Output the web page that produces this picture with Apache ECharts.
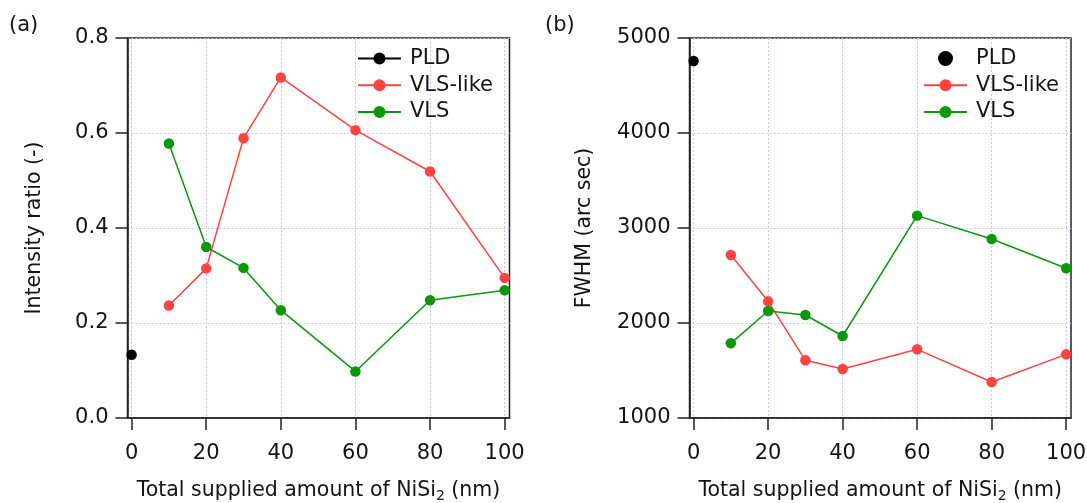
<!DOCTYPE html>
<html>
<head>
<meta charset="utf-8">
<script src="https://cdn.jsdelivr.net/npm/echarts@6/dist/echarts.min.js"></script>
<style>html,body{margin:0;padding:0;background:#fff;}#c{width:1087px;height:503px;}</style>
</head>
<body>
<div id="c"></div>
<script>
// ---- data ----
const xTicks = [0, 20, 40, 60, 80, 100];
const xVals = [10, 20, 30, 40, 60, 80, 100];
// panel (a) intensity ratio
const pldRatio = [[0, 0.133]];
const vlsLikeRatio = [0.237, 0.315, 0.589, 0.717, 0.606, 0.519, 0.295];
const vlsRatio = [0.578, 0.360, 0.316, 0.227, 0.098, 0.248, 0.269];
// panel (b) FWHM (arc sec)
const pldFwhm = [[0, 4758]];
const vlsLikeFwhm = [2716, 2228, 1607, 1516, 1723, 1379, 1670];
const vlsFwhm = [1786, 2126, 2084, 1863, 3130, 2884, 2576];

const pairs = (xs, ys) => xs.map((x, i) => [x, ys[i]]);

const FONT = "'DejaVu Sans', 'Liberation Sans', Arial, sans-serif";
const TXT = '#141414';
const RED = '#ff4242';
const GREEN = '#0a980a';
const AX = '#222';
const GRIDC = '#c6c6f2';

function xAxis(gi) {
  return {
    type: 'value', gridIndex: gi, min: -1.1, max: 101.3,
    minInterval: 20, maxInterval: 20, splitNumber: 5,
    axisLine: { show: true, onZero: false, lineStyle: { color: AX, width: 1.6 } },
    axisTick: { show: true, inside: false, length: 12, lineStyle: { color: AX, width: 1.5 }, customValues: xTicks },
    axisLabel: { color: TXT, fontSize: 21, fontFamily: FONT, margin: 25, customValues: xTicks },
    splitLine: { show: true, lineStyle: { color: GRIDC, type: [2, 2], width: 1 } },
    name: 'Total supplied amount of NiSi{sub|2} (nm)',
    nameLocation: 'middle', nameGap: 60,
    nameTextStyle: { color: TXT, fontSize: 20.5, fontFamily: FONT,
      rich: { sub: { fontSize: 14, fontFamily: FONT, color: TXT, verticalAlign: 'bottom', padding: [11, 0, 0, 0] } } }
  };
}
function yAxis(gi, min, max, interval, name, gap, fmt) {
  return {
    type: 'value', gridIndex: gi, min: min, max: max, interval: interval,
    axisLine: { show: true, onZero: false, lineStyle: { color: AX, width: 1.6 } },
    axisTick: { show: true, inside: false, length: 12, lineStyle: { color: AX, width: 1.5 } },
    axisLabel: { color: TXT, fontSize: 21, fontFamily: FONT, margin: 19, padding: [3, 0, 0, 0], formatter: fmt },
    splitLine: { show: true, lineStyle: { color: GRIDC, type: [2, 2], width: 1 } },
    name: name, nameLocation: 'middle', nameGap: gap,
    nameTextStyle: { color: TXT, fontSize: 20.5, fontFamily: FONT }
  };
}
function lineSeries(name, data, color, xi, yi) {
  return {
    type: 'line', name: name, xAxisIndex: xi, yAxisIndex: yi, data: data,
    symbol: 'circle', symbolSize: 10.5, showSymbol: true,
    lineStyle: { color: color, width: 1.5 }, itemStyle: { color: color, opacity: 1 },
    emphasis: { disabled: true }, animation: false, z: 3
  };
}
function legend(left, names) {
  return {
    orient: 'vertical', left: left, top: 48, padding: 0,
    itemWidth: 43, itemHeight: 15, itemGap: 5.7,
    data: names, formatter: n => n.trim(),
    textStyle: { color: TXT, fontSize: 21, fontFamily: FONT, lineHeight: 21, padding: [0, 0, 0, 4] },
    selectedMode: false
  };
}
function grid(left, width) {
  return { left: left, top: 38, width: width, height: 380, show: true, borderColor: AX, borderWidth: 1.5,
    backgroundColor: 'transparent', containLabel: false, outerBoundsMode: 'none' };
}

const chart = echarts.init(document.getElementById('c'), null, { renderer: 'canvas' });
chart.setOption({
  animation: false,
  backgroundColor: '#fff',
  grid: [grid(127.5, 382), grid(689.5, 381.5)],
  xAxis: [xAxis(0), xAxis(1)],
  yAxis: [
    yAxis(0, 0, 0.8, 0.2, 'Intensity ratio (-)', 82, v => v.toFixed(1)),
    yAxis(1, 1000, 5000, 1000, 'FWHM (arc sec)', 94, v => String(v))
  ],
  legend: [
    legend(357, ['PLD', 'VLS-like', 'VLS']),
    legend(923, ['PLD ', 'VLS-like ', 'VLS '])
  ],
  graphic: [
    { type: 'text', left: 9, top: 15, style: { text: '(a)', fontSize: 21, fontFamily: FONT, fill: TXT } },
    { type: 'text', left: 545, top: 15, style: { text: '(b)', fontSize: 21, fontFamily: FONT, fill: TXT } }
  ],
  series: [
    lineSeries('PLD', pldRatio, '#000', 0, 0),
    lineSeries('VLS-like', pairs(xVals, vlsLikeRatio), RED, 0, 0),
    lineSeries('VLS', pairs(xVals, vlsRatio), GREEN, 0, 0),
    { type: 'scatter', name: 'PLD ', xAxisIndex: 1, yAxisIndex: 1, data: pldFwhm, symbol: 'circle', symbolSize: 10.5,
      itemStyle: { color: '#000', opacity: 1 }, emphasis: { disabled: true }, z: 3 },
    lineSeries('VLS-like ', pairs(xVals, vlsLikeFwhm), RED, 1, 1),
    lineSeries('VLS ', pairs(xVals, vlsFwhm), GREEN, 1, 1)
  ]
});
</script>
</body>
</html>
